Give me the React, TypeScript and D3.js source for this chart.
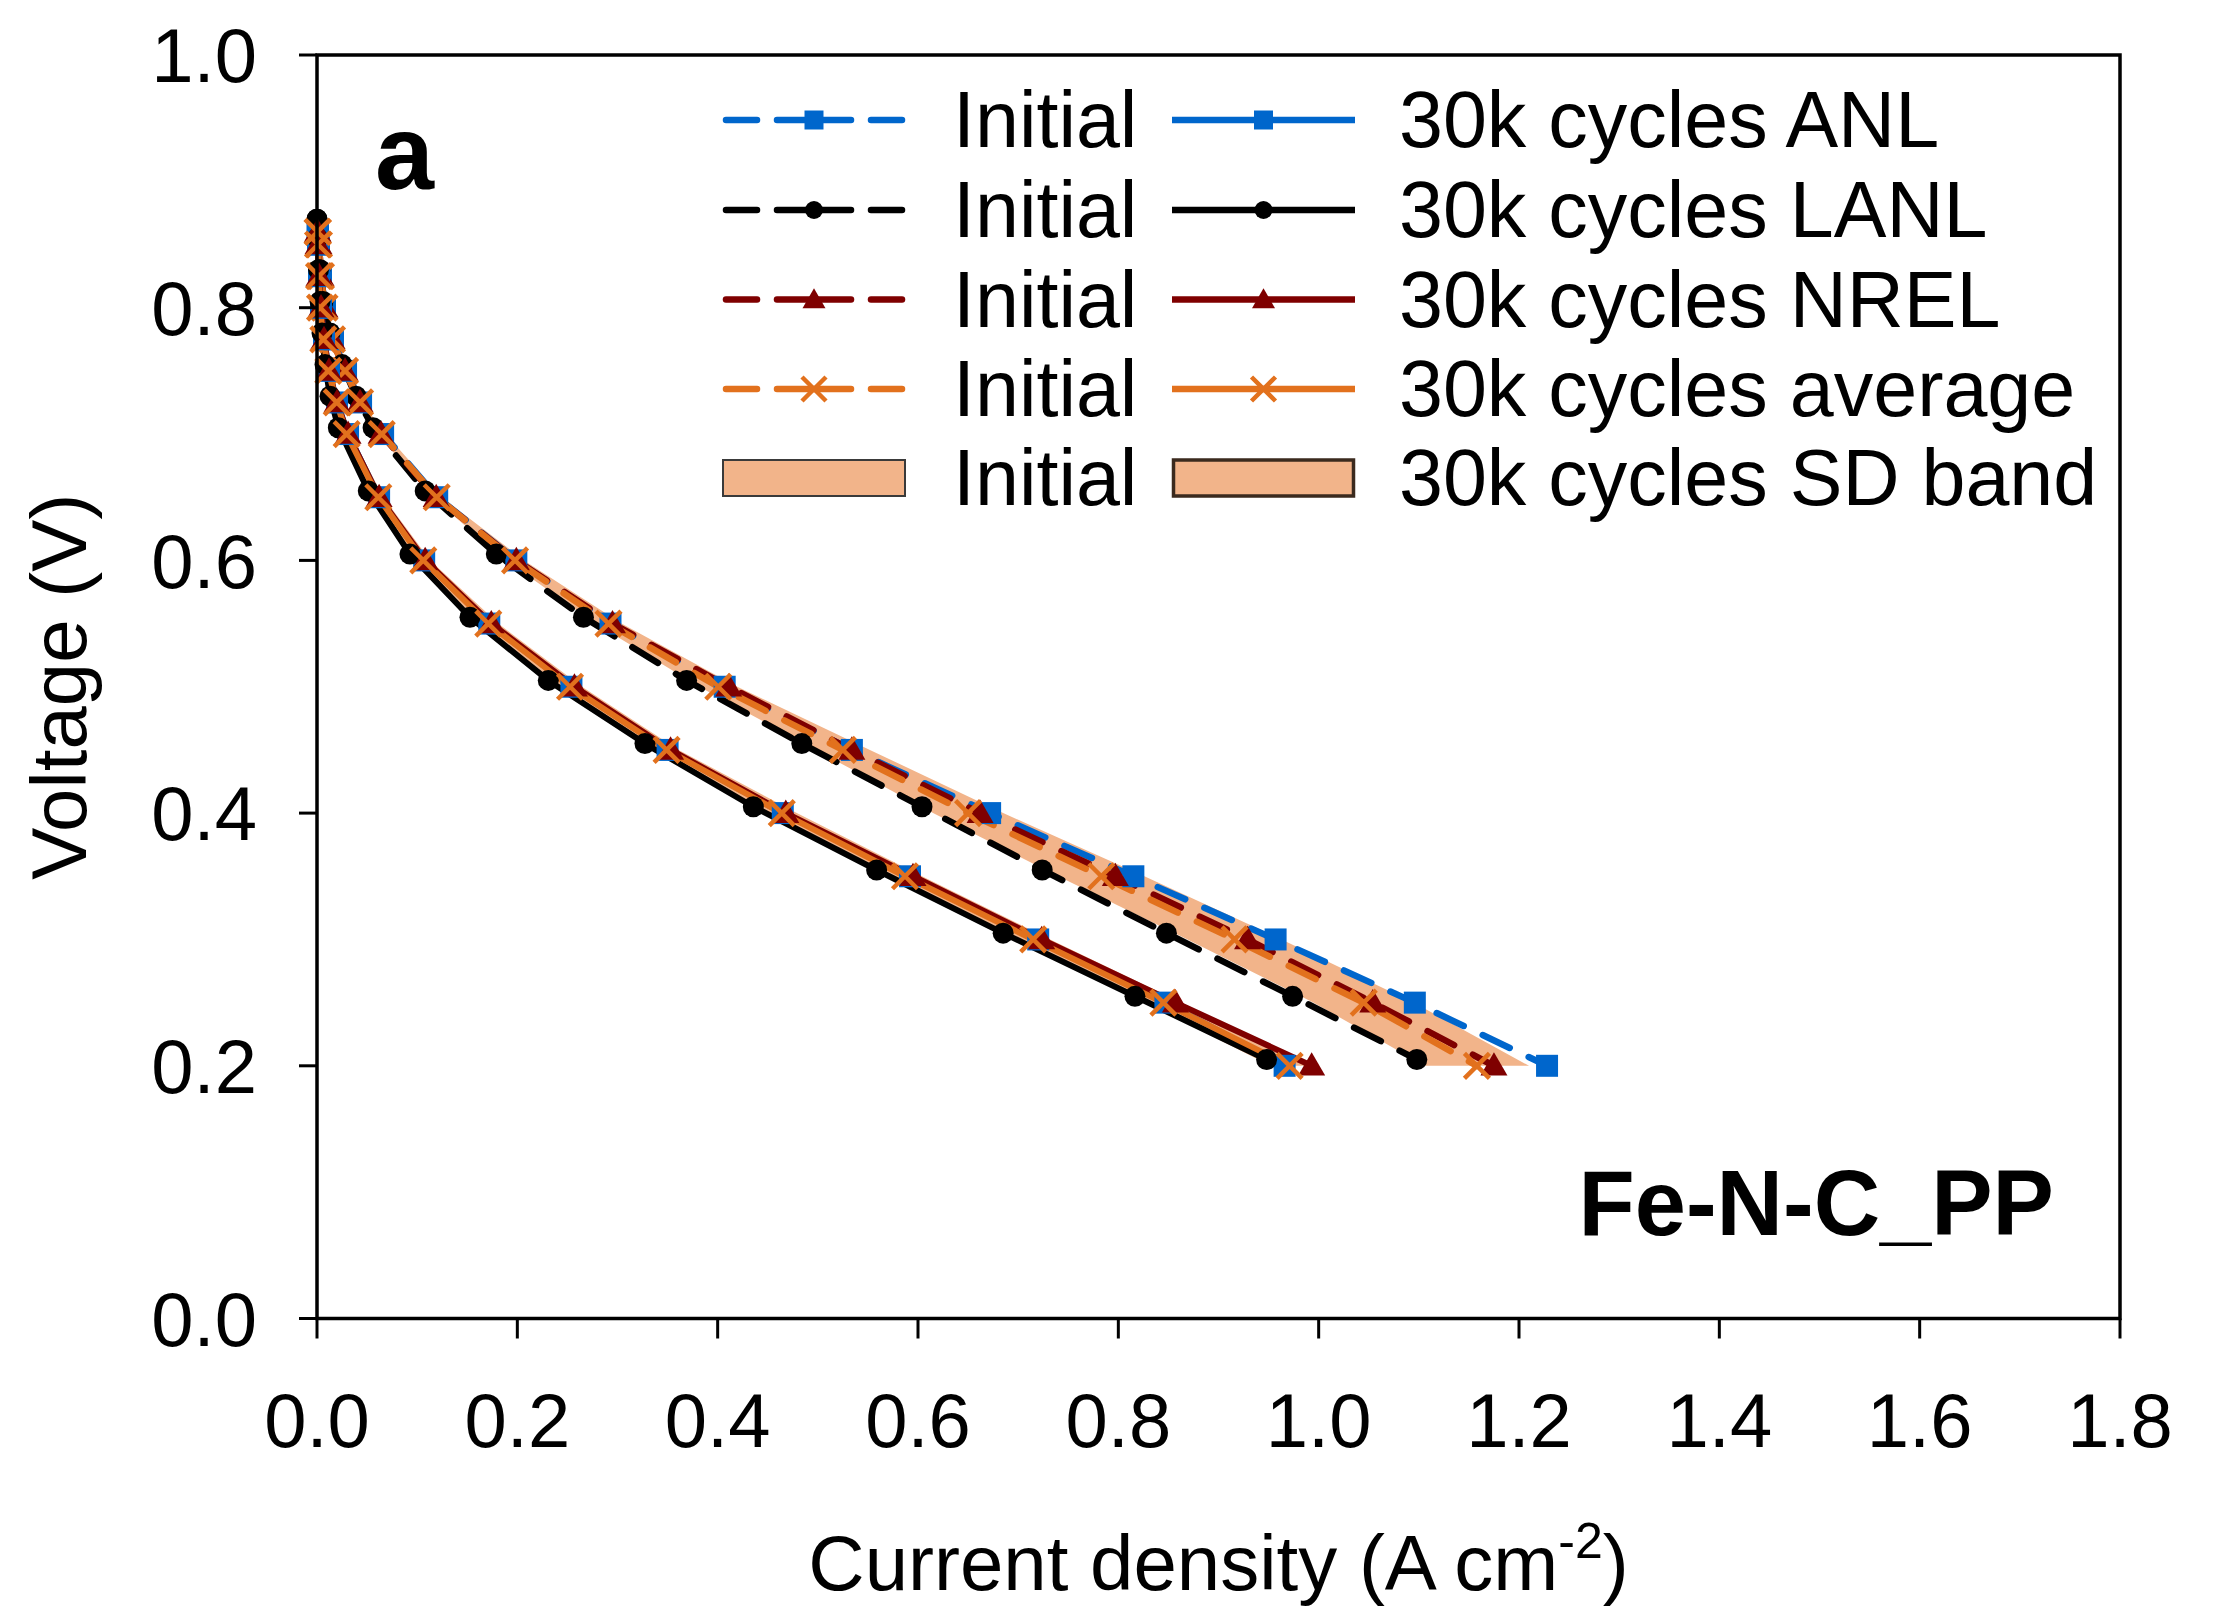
import React from "react";
import * as d3 from "d3";

// ---- data ----
const V_NOMINAL = [0.86, 0.85, 0.825, 0.8, 0.775, 0.75, 0.725, 0.7, 0.65, 0.6, 0.55, 0.5, 0.45, 0.4, 0.35, 0.3, 0.25, 0.2];
const V_LANL = [0.87, 0.855, 0.83, 0.805, 0.78, 0.755, 0.73, 0.705, 0.655, 0.605, 0.555, 0.505, 0.455, 0.405, 0.355, 0.305, 0.255, 0.205];

const initialANL = [0.001, 0.002, 0.004, 0.008, 0.016, 0.029, 0.044, 0.066, 0.12, 0.199, 0.293, 0.407, 0.534, 0.672, 0.815, 0.957, 1.096, 1.228];
const initialLANL = [0.0, 0.001, 0.003, 0.006, 0.013, 0.025, 0.039, 0.056, 0.108, 0.179, 0.266, 0.369, 0.484, 0.604, 0.724, 0.848, 0.974, 1.098];
const initialNREL = [0.001, 0.002, 0.004, 0.008, 0.015, 0.028, 0.043, 0.064, 0.119, 0.199, 0.295, 0.411, 0.534, 0.662, 0.797, 0.929, 1.054, 1.175];
const initialAvg = [0.001, 0.002, 0.004, 0.0075, 0.015, 0.028, 0.043, 0.0646, 0.1195, 0.1977, 0.291, 0.4006, 0.525, 0.65, 0.783, 0.916, 1.045, 1.158];
const initialSD = [0.0005, 0.0005, 0.0005, 0.001, 0.0015, 0.002, 0.002, 0.004, 0.005, 0.009, 0.013, 0.019, 0.027, 0.035, 0.043, 0.047, 0.05, 0.052];

const cyc30ANL = [0.0005, 0.001, 0.002, 0.004, 0.007, 0.012, 0.02, 0.031, 0.062, 0.107, 0.172, 0.254, 0.35, 0.465, 0.592, 0.72, 0.847, 0.966];
const cyc30LANL = [0.0, 0.0005, 0.0015, 0.003, 0.005, 0.008, 0.013, 0.0213, 0.0512, 0.0928, 0.1527, 0.2309, 0.3274, 0.4356, 0.5587, 0.685, 0.8166, 0.948];
const cyc30NREL = [0.0005, 0.001, 0.002, 0.004, 0.007, 0.012, 0.02, 0.031, 0.062, 0.108, 0.174, 0.257, 0.353, 0.468, 0.595, 0.7235, 0.857, 0.993];
const cyc30Avg = [0.0005, 0.001, 0.002, 0.003, 0.0063, 0.0113, 0.0197, 0.0296, 0.0612, 0.1061, 0.171, 0.2526, 0.349, 0.464, 0.587, 0.715, 0.845, 0.971];
const cyc30SD = [0.0003, 0.0003, 0.0003, 0.0005, 0.001, 0.0015, 0.002, 0.004, 0.005, 0.007, 0.01, 0.012, 0.012, 0.015, 0.017, 0.017, 0.018, 0.019];

const xTicks = [0, 0.2, 0.4, 0.6, 0.8, 1.0, 1.2, 1.4, 1.6, 1.8];
const yTicks = [0, 0.2, 0.4, 0.6, 0.8, 1.0];

const labs = ["ANL", "LANL", "NREL", "average"];

// ---- styles ----
const BLUE = "#0066CC";
const BLACK = "#000000";
const DRED = "#7F0000";
const ORANGE = "#E2711D";
const BAND = "#F2B48A";
const FONT = "'Liberation Sans', Arial, Helvetica, sans-serif";

const W = 2226;
const H = 1623;
const M = { left: 317, right: 2120, top: 55, bottom: 1318.5 };

type Series = {
  name: string;
  xs: number[];
  vs: number[];
  color: string;
  marker: "square" | "circle" | "triangle" | "cross";
  dashed: boolean;
};

const series: Series[] = [
  { name: "Initial ANL", xs: initialANL, vs: V_NOMINAL, color: BLUE, marker: "square", dashed: true },
  { name: "Initial LANL", xs: initialLANL, vs: V_LANL, color: BLACK, marker: "circle", dashed: true },
  { name: "Initial NREL", xs: initialNREL, vs: V_NOMINAL, color: DRED, marker: "triangle", dashed: true },
  { name: "Initial average", xs: initialAvg, vs: V_NOMINAL, color: ORANGE, marker: "cross", dashed: true },
  { name: "30k ANL", xs: cyc30ANL, vs: V_NOMINAL, color: BLUE, marker: "square", dashed: false },
  { name: "30k LANL", xs: cyc30LANL, vs: V_LANL, color: BLACK, marker: "circle", dashed: false },
  { name: "30k NREL", xs: cyc30NREL, vs: V_NOMINAL, color: DRED, marker: "triangle", dashed: false },
  { name: "30k average", xs: cyc30Avg, vs: V_NOMINAL, color: ORANGE, marker: "cross", dashed: false },
];

const PLOT_SIZE: Record<string, number> = { square: 22, circle: 21, triangle: 27, cross: 25 };
const LEG_SIZE: Record<string, number> = { square: 19, circle: 18, triangle: 23, cross: 24 };

const markerPath = (type: string, size: number) => {
  if (type === "square") return d3.symbol(d3.symbolSquare, size * size)();
  if (type === "circle") return d3.symbol(d3.symbolCircle, Math.PI * (size / 2) * (size / 2))();
  if (type === "triangle") return d3.symbol(d3.symbolTriangle, (Math.sqrt(3) / 4) * size * size)();
  const h = size / 2;
  return `M${-h},${-h}L${h},${h}M${-h},${h}L${h},${-h}`;
};

const Marker = ({ type, color, x, y, size }: { type: string; color: string; x: number; y: number; size: number }) => {
  const d = markerPath(type, size);
  if (type === "cross") {
    return <path d={d} transform={`translate(${x},${y})`} stroke={color} strokeWidth={4.5} fill="none" />;
  }
  return <path d={d} transform={`translate(${x},${y + (type === "triangle" ? 2 : 0)})`} fill={color} stroke="none" />;
};

export default function App() {
  const x = d3.scaleLinear().domain([0, 1.8]).range([M.left, M.right]);
  const y = d3.scaleLinear().domain([0, 1]).range([M.bottom, M.top]);

  const line = d3
    .line<[number, number]>()
    .x((d) => x(d[0]))
    .y((d) => y(d[1]));

  const bandArea = (avg: number[], sd: number[]) =>
    d3
      .area<number>()
      .y((i) => y(V_NOMINAL[i]))
      .x0((i) => x(Math.max(0, avg[i] - sd[i])))
      .x1((i) => x(avg[i] + sd[i]))(avg.map((_, i) => i)) as string;

  const legendRows = [0, 1, 2, 3];
  const rowY = [120, 210, 299.5, 389, 478];
  const c1x0 = 723;
  const c1x1 = 905;
  const c2x0 = 1172;
  const c2x1 = 1355;

  return (
    <svg
      width={W}
      height={H}
      viewBox={`0 0 ${W} ${H}`}
      style={{ position: "absolute", left: 0, top: 0, background: "#fff" }}
      fontFamily={FONT}
    >
      <rect x={0} y={0} width={W} height={H} fill="#fff" />

      {/* SD bands */}
      <path d={bandArea(initialAvg, initialSD)} fill={BAND} stroke="none" />
      <path d={bandArea(cyc30Avg, cyc30SD)} fill={BAND} stroke="none" />

      {/* lines */}
      {series.map((s) => (
        <path
          key={s.name + "-line"}
          d={line(s.xs.map((v, i) => [v, s.vs[i]] as [number, number])) as string}
          fill="none"
          stroke={s.color}
          strokeWidth={s.dashed ? 6.5 : 6}
          strokeDasharray={s.dashed ? "30 21" : undefined}
          strokeLinecap={s.dashed ? "round" : "butt"}
          strokeLinejoin="round"
        />
      ))}

      {/* markers */}
      {series.map((s) => (
        <g key={s.name + "-markers"}>
          {s.xs.map((v, i) => (
            <Marker key={i} type={s.marker} color={s.color} x={x(v)} y={y(s.vs[i])} size={PLOT_SIZE[s.marker]} />
          ))}
        </g>
      ))}

      {/* frame */}
      <rect
        x={M.left}
        y={M.top}
        width={M.right - M.left}
        height={M.bottom - M.top}
        fill="none"
        stroke="#000"
        strokeWidth={3.5}
      />

      {/* x ticks */}
      {xTicks.map((t) => (
        <g key={"xt" + t}>
          <line x1={x(t)} x2={x(t)} y1={M.bottom} y2={M.bottom + 20} stroke="#000" strokeWidth={3} />
          <text x={x(t)} y={1447} textAnchor="middle" fontSize={76} fill="#000">
            {d3.format(".1f")(t)}
          </text>
        </g>
      ))}

      {/* y ticks */}
      {yTicks.map((t) => (
        <g key={"yt" + t}>
          <line x1={M.left - 18} x2={M.left} y1={y(t)} y2={y(t)} stroke="#000" strokeWidth={3} />
          <text x={257} y={y(t)} dy="0.36em" textAnchor="end" fontSize={76} fill="#000">
            {d3.format(".1f")(t)}
          </text>
        </g>
      ))}

      {/* axis titles */}
      <text x={(M.left + M.right) / 2} y={1590} textAnchor="middle" fontSize={78} fill="#000">
        Current density (A cm
        <tspan dy={-32} fontSize={50}>
          -2
        </tspan>
        <tspan dy={32}>)</tspan>
      </text>
      <text
        transform={`translate(86, ${(M.top + M.bottom) / 2}) rotate(-90)`}
        textAnchor="middle"
        fontSize={78}
        fill="#000"
      >
        Voltage (V)
      </text>

      {/* panel label */}
      <text x={375} y={189} fontSize={106} fontWeight="bold" fill="#000">
        a
      </text>
      <text x={2054} y={1235} textAnchor="end" fontSize={92} fontWeight="bold" fill="#000">
        Fe-N-C_PP
      </text>

      {/* legend */}
      {legendRows.map((r) => {
        const s1 = series[r];
        const s2 = series[r + 4];
        const ly = rowY[r];
        const mid1 = (c1x0 + c1x1) / 2;
        const mid2 = (c2x0 + c2x1) / 2;
        return (
          <g key={"lg" + r}>
            <line x1={c1x0 + 3} x2={c1x0 + 34} y1={ly} y2={ly} stroke={s1.color} strokeWidth={6.5} strokeLinecap="round" />
            <line x1={mid1 - 37} x2={mid1 + 37} y1={ly} y2={ly} stroke={s1.color} strokeWidth={6.5} strokeLinecap="round" />
            <line x1={c1x1 - 34} x2={c1x1 - 3} y1={ly} y2={ly} stroke={s1.color} strokeWidth={6.5} strokeLinecap="round" />
            <Marker type={s1.marker} color={s1.color} x={mid1} y={ly} size={LEG_SIZE[s1.marker]} />
            <text x={953} y={ly + 27} fontSize={79} fill="#000">
              Initial
            </text>
            <line x1={c2x0} x2={c2x1} y1={ly} y2={ly} stroke={s2.color} strokeWidth={6.5} />
            <Marker type={s2.marker} color={s2.color} x={mid2} y={ly} size={LEG_SIZE[s2.marker]} />
            <text x={1399} y={ly + 27} fontSize={79} fill="#000">
              {"30k cycles " + labs[r]}
            </text>
          </g>
        );
      })}
      <g>
        <rect x={c1x0} y={rowY[4] - 18} width={c1x1 - c1x0} height={36} fill={BAND} stroke="#3a3a3a" strokeWidth={2} />
        <text x={953} y={rowY[4] + 27} fontSize={79} fill="#000">
          Initial
        </text>
        <rect x={c2x0 + 1.5} y={rowY[4] - 18} width={c2x1 - c2x0 - 3} height={36} fill={BAND} stroke="#3b2a1e" strokeWidth={3.5} />
        <text x={1399} y={rowY[4] + 27} fontSize={79} fill="#000">
          30k cycles SD band
        </text>
      </g>
    </svg>
  );
}
